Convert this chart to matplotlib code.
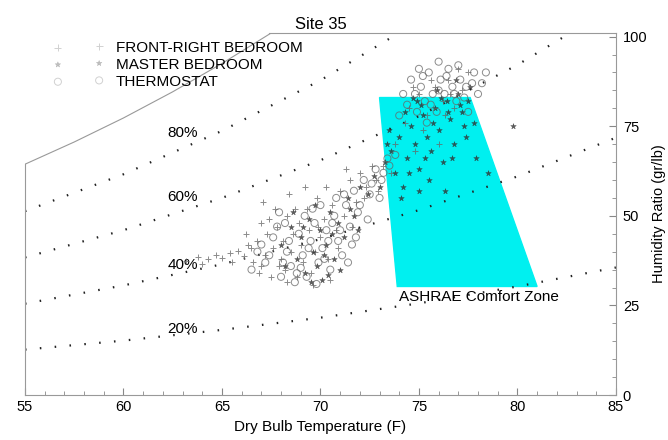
import numpy as np
import matplotlib
matplotlib.use('Agg')
import matplotlib.pyplot as plt

plt.rcParams['font.family'] = ['Liberation Sans', 'DejaVu Sans']

# psychrometric reference curves (gr/lb) at these dry bulb temps
temps = [55, 60, 65, 70, 75, 80, 85]
rh20 = [12.7, 15.2, 18.2, 21.6, 25.6, 30.3, 35.6]
rh40 = [25.5, 30.6, 36.5, 43.5, 51.6, 61.0, 71.8]
rh60 = [38.4, 46.0, 55.0, 65.5, 77.8, 92.1, 108.7]
rh80 = [51.3, 61.6, 73.7, 87.8, 104.4, 123.7, 146.1]
rh_labels = ['20%', '40%', '60%', '80%']
rh_label_y = [18.4, 36.3, 55.3, 73.2]

sat_t = [55, 57.5, 60, 62.5, 65, 67.5]
sat_w = [64.4, 70.6, 77.3, 84.6, 92.5, 101.0]

# comfort zone corners (temp, humidity ratio)
zone_t = [73.0, 77.6, 81.0, 73.9]
zone_w = [83.0, 83.0, 30.3, 30.3]

# FRONT-RIGHT BEDROOM
frb_t = [63.2, 63.8, 64.3, 64.7, 65.0, 65.4, 65.8, 66.1, 64.0, 65.5,
         66.5, 66.8, 67.0, 67.2, 67.3, 67.5, 67.6, 67.8, 68.0, 68.1,
         68.2, 68.3, 68.5, 68.6, 68.8, 68.9, 69.0, 69.1, 69.3, 69.4,
         69.5, 69.7, 69.8, 70.0, 70.2, 70.4, 70.6, 70.8, 71.0, 71.2,
         71.5, 71.8, 72.0, 72.3, 72.6, 67.0, 66.9, 68.4, 67.7, 69.2,
         74.5, 75.0, 75.4, 75.8, 76.2, 76.5, 76.8, 77.2, 77.5, 75.2,
         76.0, 74.8,
         66.3, 66.6, 67.4, 67.9, 68.7, 69.9, 70.3, 70.9, 71.3, 71.6,
         72.2, 72.8, 73.2, 68.3, 69.6, 70.5, 66.2, 67.1, 73.8, 74.3,
         75.6, 76.6, 77.0, 76.3, 74.7, 73.6, 72.9]
frb_w = [37.5, 38.5, 38.0, 39.0, 38.2, 39.5, 40.2, 38.8, 36.5, 37.0,
         41, 43, 36, 39, 45, 33, 41, 47, 38, 43,
         35, 50, 40, 45, 33, 48, 42, 37, 52, 46,
         34, 40, 55, 44, 49, 38, 53, 46, 57, 50,
         60, 54, 62, 58, 64, 48, 34, 56, 52, 58,
         80, 84, 78, 86, 82, 88, 80, 85, 90, 74,
         70, 68,
         42, 37, 49, 36, 52, 47, 58, 41, 63, 47,
         55, 60, 64, 31.5, 30.8, 32, 45, 54, 70, 76,
         88, 84, 91, 78, 86, 62, 57]

# MASTER BEDROOM
mb_t = [68.0, 68.5, 68.8, 69.0, 69.2, 69.4, 69.6, 69.8, 70.0, 70.1,
        70.3, 70.5, 70.7, 70.9, 71.2, 71.4, 71.7, 72.0, 69.5, 70.4,
        73.3, 73.6, 73.8, 74.0, 74.2, 74.4, 74.6, 74.8, 75.0, 75.2,
        75.4, 75.6, 75.8, 76.0, 76.2, 76.4, 76.6, 76.8, 77.0, 77.2,
        77.4, 77.6, 77.8, 75.5, 76.3, 74.1, 77.9, 78.5, 79.8, 76.9,
        75.9, 74.9, 73.5,
        68.2, 68.6, 69.1, 69.7, 70.2, 70.6, 71.0, 71.5, 71.9, 72.4,
        72.7, 73.0, 73.4, 74.3, 74.7, 75.1, 75.7, 76.1, 76.5, 77.1,
        77.5, 75.3, 74.5, 76.7, 75.0, 77.3]
mb_w = [42, 47, 38, 44, 34, 49, 40, 36, 46, 32,
        42, 51, 38, 48, 44, 55, 50, 58, 31.5, 33.5,
        65, 68, 62, 72, 58, 66, 75, 70, 63, 78,
        72, 68, 80, 74, 65, 82, 77, 70, 84, 79,
        72, 86, 76, 60, 57, 55, 66, 62, 75, 88,
        85, 82, 74,
        36, 51, 47, 53, 39, 45, 35, 52, 46, 56,
        61, 58, 70, 79, 83, 81, 76, 83, 79, 81,
        82, 66, 62, 66, 57, 75]

# THERMOSTAT
th_t = [66.8, 67.2, 67.6, 68.0, 68.3, 68.5, 68.7, 68.9, 69.1, 69.3,
        69.5, 69.7, 69.9, 70.1, 70.3, 70.5, 70.7, 70.9, 71.1, 71.3,
        71.5, 71.7, 71.9, 72.2, 72.5, 72.8, 73.1, 73.4, 68.2, 69.6,
        70.8, 67.9, 71.6, 72.4, 69.0,
        74.2, 74.6, 74.9, 75.1, 75.3, 75.5, 75.7, 75.9, 76.1, 76.3,
        76.5, 76.7, 76.9, 77.1, 77.3, 77.5, 77.7, 78.0, 78.4, 76.0,
        75.4, 74.0,
        66.5, 67.0, 67.4, 67.8, 68.1, 68.4, 68.8, 69.2, 69.4, 69.8,
        70.0, 70.2, 70.4, 70.6, 71.0, 71.2, 71.4, 71.8, 72.0, 72.6,
        73.0, 73.2, 74.4, 74.8, 75.2, 75.6, 76.0, 76.4, 76.8, 77.0,
        77.4, 77.8, 78.2, 75.0, 73.5, 73.8]
th_w = [40, 37, 44, 33, 40, 36, 31.5, 45, 39, 33,
        43, 48, 37, 41, 46, 35, 50, 43, 39, 53,
        47, 57, 51, 60, 56, 63, 60, 66, 48, 52,
        55, 51, 42, 49, 35.5,
        84, 88, 79, 86, 82, 90, 84, 79, 88, 84,
        91, 86, 82, 88, 83, 79, 87, 84, 90, 93,
        76, 78,
        35, 42, 39, 47, 37, 43, 34, 50, 41, 31,
        53, 38, 43, 48, 46, 56, 37, 44, 53, 59,
        55, 62, 81, 84, 89, 81, 85, 89, 84, 92,
        86, 90, 87, 91, 64, 67]

fig = plt.figure(figsize=(6.68, 4.4), dpi=100)
ax = fig.add_axes([0.0374, 0.102, 0.8846, 0.823])

ax.fill(zone_t, zone_w, color='#00f0f0', zorder=1)
ax.text(74.0, 27.3, 'ASHRAE Comfort Zone', fontsize=11, va='center', ha='left')

ax.plot(sat_t, sat_w, color='#999999', lw=0.8, zorder=2)
for w in [rh20, rh40, rh60, rh80]:
    ax.plot(temps, w, color='#222222', lw=1.6, ls=(0, (0.7, 6)), zorder=2)
for lab, ly in zip(rh_labels, rh_label_y):
    ax.text(63.0, ly, lab, fontsize=11, ha='center', va='center')

s1 = ax.scatter(frb_t, frb_w, marker='+', s=24, color='#666666', linewidths=0.7,
                alpha=0.75, zorder=3, label='FRONT-RIGHT BEDROOM')
s2 = ax.scatter(mb_t, mb_w, marker='*', s=18, color='#333333', linewidths=0.3,
                alpha=0.8, zorder=3, label='MASTER BEDROOM')
s3 = ax.scatter(th_t, th_w, marker='o', s=26, facecolors='none',
                edgecolors='#666666', linewidths=0.7, alpha=0.75, zorder=3,
                label='THERMOSTAT')

leg = ax.legend(handles=[s1, s2, s3], loc='upper left', bbox_to_anchor=(0.035, 1.0),
                frameon=False, scatterpoints=2, fontsize=11, handlelength=3.3,
                handletextpad=0.8, labelspacing=0.2, borderaxespad=0.1)
for h in leg.legend_handles:
    h.set_alpha(0.3)

ax.set_xlim(55, 85)
ax.set_ylim(0, 101)
ax.set_xticks(range(55, 86, 5))
ax.set_xticks(range(55, 86, 1), minor=True)
ax.set_yticks(range(0, 101, 25))
ax.set_yticks(range(0, 101, 5), minor=True)

ax.yaxis.tick_right()
ax.yaxis.set_label_position('right')
ax.tick_params(axis='both', which='both', direction='in', colors='#888888',
               labelcolor='black', labelsize=10.5)
ax.tick_params(which='major', length=5)
ax.tick_params(which='minor', length=3)
ax.tick_params(axis='y', pad=5)

for sp in ax.spines.values():
    sp.set_color('#999999')
    sp.set_linewidth(0.8)
ax.spines['top'].set_bounds(67.4, 85)
ax.spines['left'].set_bounds(0, 64.4)

ax.set_xlabel('Dry Bulb Temperature (F)', fontsize=11)
ax.set_ylabel('Humidity Ratio (gr/lb)', fontsize=10.5, labelpad=3)
ax.set_title('Site 35', fontsize=12, pad=3)

fig.savefig('out.png', dpi=100)
